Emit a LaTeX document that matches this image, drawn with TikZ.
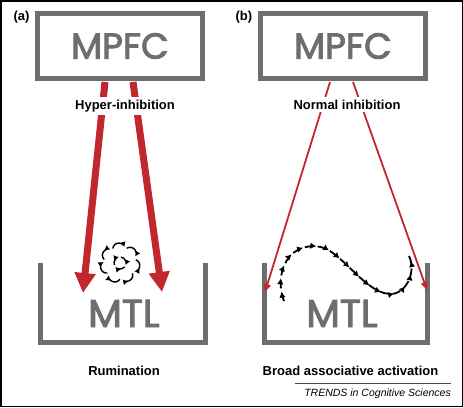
\documentclass[tikz,border=0pt]{standalone}
\usepackage{fontspec}
\setmainfont{Liberation Sans}
\newfontfamily\boxfont[FakeBold=2.5]{Poppins}
\usepackage{tikz}
\usetikzlibrary{arrows.meta, decorations.markings, calc}
\definecolor{boxgray}{HTML}{6E6E6E}
\definecolor{inhred}{HTML}{C1272D}

\begin{document}
\begin{tikzpicture}[x=1pt, y=-1pt]
    \useasboundingbox (0,0) rectangle (463,407);
    \draw[line width=1.5pt] (0.75,0.75) rectangle (462.25,406.25);

    % Styles for boxes, tubs, labels and arrows
    \tikzset{
      region/.style={draw=boxgray, line width=5pt, minimum width=165pt, minimum height=65pt,
        inner sep=0pt, text=boxgray, font=\boxfont\fontsize{36}{36}\selectfont},
      tub/.style={draw=boxgray, line width=5pt},
      areatext/.style={text=boxgray, font=\boxfont\fontsize{39}{39}\selectfont, anchor=base},
      caption/.style={font=\bfseries\fontsize{13}{13}\selectfont, fill=white, inner sep=3pt, anchor=base},
      strong/.style={draw=inhred, line width=7pt, -{Triangle[length=20pt, width=20pt]}},
      weak/.style={draw=inhred, line width=1.8pt, -{Triangle[length=8pt, width=7pt]}},
      swirl/.style={line width=1.4pt, -{Latex[length=5pt, width=6pt]}},
      wave/.style={line width=1.8pt, dash pattern=on 8pt off 5pt,
        postaction={decorate, decoration={markings,
          mark=between positions 0.045 and 0.99 step 0.062 with {\arrow{Latex[length=6pt, width=6.5pt]}}}}},
    }

    % (a) hyper-inhibition
    \node[region] (mpfcA) at (120,46) {MPFC};
    \draw[tub] (40.5,263) -- (40.5,342.5) -- (205.5,342.5) -- (205.5,263);
    \node[areatext] (mtlA) at (124,327) {MTL};

    \coordinate (a1) at (105,82);
    \coordinate (a1') at (83,293);
    \coordinate (a2) at (133,82);
    \coordinate (a2') at (162,292);
    \draw[strong] (a1) -- (a1');
    \draw[strong] (a2) -- (a2');

    % swirl of hooked arrows
    \coordinate (c) at (120,263);
    \foreach \a in {10,61,...,320} {
        \draw[swirl] ($(c)+(\a:14)+(\a-80:6)$) arc[start angle=\a-80, end angle=\a+75, radius=6];
    }
    \foreach \a in {40,160,280} {
        \draw[swirl] ($(c)+(\a:6)$) arc[start angle=\a, end angle=\a+100, radius=6];
    }

    \node[caption] (hyper) at (125,109) {Hyper-inhibition};
    \node[caption] (rum) at (124,375) {Rumination};
    \node[font=\bfseries\fontsize{13}{13}\selectfont, anchor=base west] (labA) at (10,20) {(a)};

    % (b) normal inhibition
    \node[region] (mpfcB) at (343,46) {MPFC};
    \draw[tub] (264.5,263) -- (264.5,342.5) -- (427.5,342.5) -- (427.5,263);
    \node[areatext] (mtlB) at (342,327) {MTL};

    \coordinate (b1) at (330,82);
    \coordinate (b1') at (265,292);
    \coordinate (b2) at (353,82);
    \coordinate (b2') at (427,290);
    \draw[weak] (b1) -- (b1');
    \draw[weak] (b2) -- (b2');

    \draw[wave] (284,301) .. controls (278,285) and (280,268) .. (290,256)
        .. controls (300,245) and (318,243) .. (330,251)
        .. controls (350,264) and (370,295) .. (392,294)
        .. controls (408,292) and (416,270) .. (409,256);

    \node[caption] (normal) at (347,109) {Normal inhibition};
    \node[caption] (broad) at (350.5,375) {Broad associative activation};
    \node[font=\bfseries\fontsize{13}{13}\selectfont, anchor=base west] (labB) at (232,20) {(b)};

    % journal line
    \coordinate (j1) at (295,383);
    \coordinate (j2) at (451,383);
    \draw[line width=0.6pt, black!70] (j1) -- (j2);
    \node[font=\itshape\fontsize{10.5}{10.5}\selectfont, anchor=base east, inner sep=0pt] (trends) at (451,396) {TRENDS in Cognitive Sciences};
\end{tikzpicture}
\end{document}
